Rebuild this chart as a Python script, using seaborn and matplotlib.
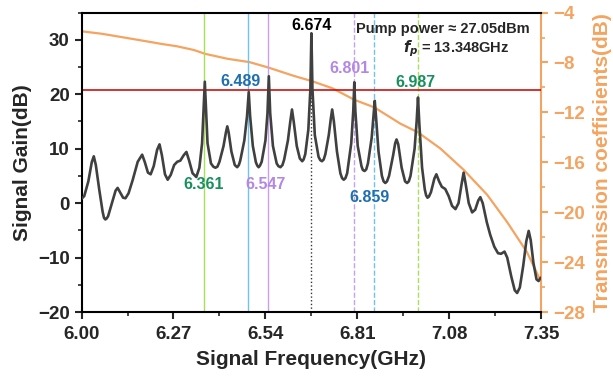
import numpy as np
import pandas as pd
import matplotlib
matplotlib.use('Agg')
import matplotlib.pyplot as plt
import seaborn as sns
from matplotlib.ticker import MultipleLocator, FixedLocator

# Dados: ganho do sinal (dB) versus frequência (GHz)
freq_gain = [6.000, 6.008, 6.020, 6.030, 6.036, 6.042, 6.052, 6.062, 6.066, 6.070,
             6.074, 6.078, 6.090, 6.100, 6.106, 6.113, 6.122, 6.129, 6.138, 6.150,
             6.165, 6.178, 6.186, 6.195, 6.203, 6.212, 6.222, 6.229, 6.236, 6.245,
             6.253, 6.262, 6.272, 6.281, 6.290, 6.300, 6.308, 6.316, 6.326, 6.337,
             6.346, 6.354, 6.359, 6.362, 6.365, 6.370, 6.380, 6.387, 6.393, 6.399,
             6.405, 6.417, 6.424, 6.428, 6.432, 6.440, 6.450, 6.457, 6.462, 6.466,
             6.478, 6.486, 6.491, 6.495, 6.503, 6.512, 6.516, 6.520, 6.524, 6.529,
             6.540, 6.546, 6.550, 6.554, 6.562, 6.573, 6.578, 6.584, 6.590, 6.595,
             6.606, 6.613, 6.618, 6.623, 6.632, 6.641, 6.648, 6.652, 6.657, 6.666,
             6.672, 6.675, 6.678, 6.685, 6.696, 6.701, 6.706, 6.711, 6.716, 6.726,
             6.732, 6.736, 6.741, 6.750, 6.760, 6.765, 6.770, 6.775, 6.780, 6.792,
             6.798, 6.801, 6.804, 6.811, 6.822, 6.826, 6.831, 6.836, 6.841, 6.852,
             6.858, 6.861, 6.864, 6.872, 6.882, 6.887, 6.892, 6.897, 6.903, 6.915,
             6.921, 6.925, 6.930, 6.940, 6.950, 6.956, 6.961, 6.966, 6.978, 6.984,
             6.988, 6.992, 7.000, 7.008, 7.012, 7.016, 7.020, 7.026, 7.036, 7.042,
             7.050, 7.058, 7.068, 7.078, 7.088, 7.098, 7.107, 7.116, 7.122, 7.128,
             7.137, 7.147, 7.156, 7.165, 7.171, 7.178, 7.190, 7.200, 7.212, 7.223,
             7.232, 7.242, 7.250, 7.262, 7.272, 7.279, 7.287, 7.297, 7.306, 7.313,
             7.319, 7.327, 7.336, 7.342, 7.348]
gain = [0.8, 1.3, 4.0, 7.5, 8.6, 7.0, 2.5, -1.6, -2.7, -3.0,
        -2.8, -2.4, 0.2, 2.3, 2.8, 2.0, 1.0, 0.9, 1.8, 4.2,
        7.6, 8.9, 7.5, 5.6, 5.3, 6.8, 9.8, 10.8, 8.8, 5.3,
        4.3, 5.2, 7.0, 7.6, 7.8, 8.8, 9.4, 7.8, 5.5, 4.8,
        6.5, 11.0, 18.0, 22.3, 18.0, 11.0, 7.3, 6.7, 6.5, 6.7,
        7.6, 10.5, 13.0, 14.1, 13.0, 9.5, 7.0, 6.6, 7.0, 7.8,
        11.5, 16.0, 20.4, 16.0, 10.5, 7.5, 6.9, 6.6, 6.9, 7.6,
        11.5, 16.5, 23.3, 16.5, 10.5, 7.3, 6.8, 6.6, 7.0, 8.0,
        11.5, 15.0, 17.2, 15.0, 10.5, 8.2, 7.7, 8.0, 9.0, 13.5,
        21.0, 31.2, 21.0, 12.5, 8.5, 7.9, 7.7, 8.0, 9.0, 12.5,
        15.5, 17.2, 15.0, 9.5, 5.5, 4.6, 4.3, 4.6, 5.5, 11.0,
        17.0, 22.2, 17.0, 10.5, 6.8, 6.1, 5.9, 6.2, 7.3, 12.0,
        16.5, 18.8, 16.5, 9.5, 5.0, 4.0, 3.7, 4.0, 5.0, 8.8,
        11.0, 11.7, 10.8, 6.5, 4.0, 3.7, 4.0, 5.0, 10.0, 15.0,
        19.4, 14.5, 6.5, 2.5, 1.4, 1.0, 1.2, 2.0, 4.5, 5.3,
        4.0, 3.0, 2.6, 1.3, -0.5, -1.1, 0.0, 3.5, 5.6, 3.5,
        0.0, -1.7, -1.2, 0.5, 1.1, 0.0, -3.5, -5.8, -8.0, -9.2,
        -9.3, -8.9, -10.0, -13.5, -16.0, -16.5, -15.5, -11.5, -7.0, -5.1,
        -6.8, -11.0, -14.0, -14.3, -13.7]

# Coeficiente de transmissão (eixo da direita)
freq_trans = [6.000, 6.060, 6.134, 6.190, 6.232, 6.280, 6.330, 6.362, 6.428, 6.493,
              6.548, 6.623, 6.677, 6.736, 6.802, 6.860, 6.936, 6.988, 7.054, 7.122,
              7.191, 7.250, 7.308, 7.350]
trans = [-5.5, -5.7, -6.04, -6.3, -6.5, -6.7, -7.0, -7.3, -7.7, -7.97,
         -8.4, -9.07, -9.5, -10.06, -11.0, -11.6, -12.9, -13.6, -14.9, -16.6,
         -18.6, -20.8, -23.2, -25.6]

# Frequências marcadas
marcas = [6.361, 6.489, 6.547, 6.674, 6.801, 6.859, 6.987]
marcas_txt = ['6.361', '6.489', '6.547', '6.674', '6.801', '6.859', '6.987']
cores_linha = ['#a8e05a', '#6ec3f2', '#c9a0f0', '#333333', '#c9a0f0', '#6ec3f2', '#a8e05a']
estilos = ['-', '-', '-', ':', '--', '--', '--']
cores_txt = ['#17905e', '#1f6fae', '#b387e4', '#000000', '#b387e4', '#1f6fae', '#17905e']
txt_x = [6.359, 6.467, 6.540, 6.676, 6.788, 6.846, 6.980]
txt_y = [3.4, 22.4, 3.4, 32.7, 24.8, 1.1, 22.2]

nivel_ganho = 20.7
laranja = '#f4a460'

df_gain = pd.DataFrame({'freq': freq_gain, 'gain': gain})
df_trans = pd.DataFrame({'freq': freq_trans, 'trans': trans})

sns.set_style('ticks')
plt.rcParams['font.family'] = ['Liberation Sans', 'DejaVu Sans']
plt.rcParams['font.weight'] = 'bold'

fig = plt.figure(figsize=(6.13, 3.81), dpi=100)
ax = fig.add_axes([0.133, 0.181, 0.750, 0.786])

# Linhas verticais de referência
for f, c, ls in zip(marcas, cores_linha, estilos):
    if ls == ':':
        ax.vlines(f, -20, 31.2, colors=c, linestyles=ls, linewidth=1.0, zorder=1)
    else:
        ax.axvline(f, color=c, linestyle=ls, linewidth=1.0, zorder=1)

ax.axhline(nivel_ganho, color='#cc1010', linewidth=1.2, zorder=2)

ax2 = ax.twinx()
sns.lineplot(x='freq', y='trans', data=df_trans, ax=ax2, color=laranja, linewidth=1.6)
ax2.set_ylim(-28, -4)

sns.lineplot(x='freq', y='gain', data=df_gain, ax=ax, color='#404040', linewidth=1.9, zorder=5)
ax.set_zorder(ax2.get_zorder() + 1)
ax.patch.set_visible(False)

ax.set_xlim(6.0, 7.35)
ax.set_ylim(-20, 35)
ax.xaxis.set_major_locator(FixedLocator([6.00, 6.27, 6.54, 6.81, 7.08, 7.35]))
ax.xaxis.set_minor_locator(FixedLocator([6.135, 6.405, 6.675, 6.945, 7.215]))
ax.set_xticklabels(['6.00', '6.27', '6.54', '6.81', '7.08', '7.35'])
ax.yaxis.set_major_locator(MultipleLocator(10))
ax.yaxis.set_minor_locator(MultipleLocator(5))
ax2.yaxis.set_major_locator(MultipleLocator(4))
ax2.yaxis.set_minor_locator(MultipleLocator(2))

for s in ['left', 'top', 'bottom']:
    ax.spines[s].set_linewidth(1.5)
    ax.spines[s].set_color('black')
ax.spines['right'].set_visible(False)
ax2.spines['right'].set_color(laranja)
ax2.spines['right'].set_linewidth(1.5)
for s in ['left', 'top', 'bottom']:
    ax2.spines[s].set_visible(False)

ax.tick_params(axis='both', which='major', direction='out', length=5, width=1.5, labelsize=13.5)
ax.tick_params(axis='x', which='major', pad=5)
ax.tick_params(axis='both', which='minor', direction='out', length=3, width=1.2)
ax2.tick_params(axis='y', which='major', direction='out', length=5, width=1.5, labelsize=13.5,
                colors=laranja)
ax2.tick_params(axis='y', which='minor', direction='out', length=3, width=1.2, colors=laranja)

ax.set_xlabel('Signal Frequency(GHz)', fontsize=15, fontweight='bold', labelpad=5)
ax.set_ylabel('Signal Gain(dB)', fontsize=15, fontweight='bold', labelpad=4)
ax2.set_ylabel('Transmission coefficients(dB)', fontsize=15, fontweight='bold', color=laranja, labelpad=6)

for t, x, y, c in zip(marcas_txt, txt_x, txt_y, cores_txt):
    ax.text(x, y, t, color=c, fontsize=11.5, fontweight='bold', ha='center', va='center', zorder=6)

ax.text(0.785, 0.945, 'Pump power ≈ 27.05dBm', transform=ax.transAxes, fontsize=10.5,
        fontweight='bold', ha='center', va='center')
ax.text(0.93, 0.88, r'$\boldsymbol{f_p}$ = 13.348GHz', transform=ax.transAxes, fontsize=10.5,
        fontweight='bold', ha='right', va='center')

fig.savefig('out.png', dpi=100)
